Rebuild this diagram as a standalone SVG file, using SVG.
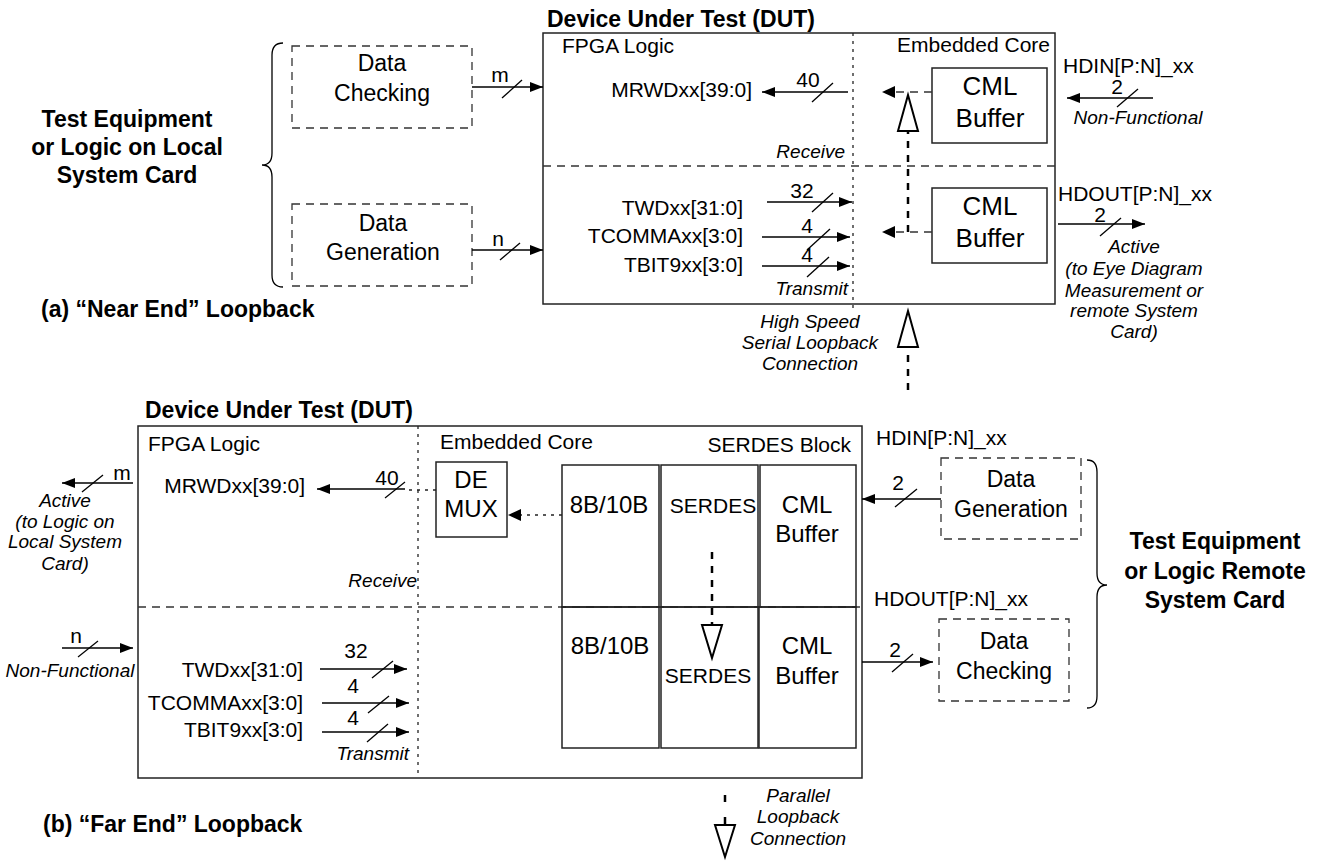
<svg xmlns="http://www.w3.org/2000/svg" width="1323" height="861" viewBox="0 0 1323 861">
<defs>
<style>
.t{font-family:"Liberation Sans",Arial,sans-serif;font-size:21px;fill:#000}
.b{font-weight:bold;font-size:23px}
.i{font-style:italic;font-size:19px}
.c{text-anchor:middle}
.e{text-anchor:end}
.l23{font-size:23px}
.l24{font-size:24px}
.l26{font-size:26px}
.box{fill:none;stroke:#222;stroke-width:1.5}
.dbox{fill:none;stroke:#333;stroke-width:1.3;stroke-dasharray:8 6}
.dot{stroke:#222;stroke-width:1.3;stroke-dasharray:3 5;fill:none}
.dash{stroke:#333;stroke-width:1.3;stroke-dasharray:8 6;fill:none}
.ln{stroke:#000;stroke-width:1.3;fill:none}
.thick{stroke:#000;stroke-width:2.5;stroke-dasharray:7 7;fill:none}
.solidthick{stroke:#000;stroke-width:2.5;fill:none}
.tri{fill:#fff;stroke:#000;stroke-width:2}
</style>
<marker id="ah" viewBox="0 0 13 10" refX="13" refY="5" markerWidth="13" markerHeight="10" markerUnits="userSpaceOnUse" orient="auto">
<path d="M0,0 L13,5 L0,10 Z" fill="#000"/>
</marker>
</defs>
<rect x="0" y="0" width="1323" height="861" fill="#fff"/>

<!-- ============ (a) Near End ============ -->
<g id="top-left-label">
<text class="t b c" x="127" y="127">Test Equipment</text>
<text class="t b c" x="127" y="155">or Logic on Local</text>
<text class="t b c" x="127" y="183">System Card</text>
<path class="ln" d="M283,43 Q272,43 272,55 L272,153 Q272,165 262,165 Q272,165 272,177 L272,275 Q272,287 283,287"/>
<text class="t b" x="41" y="317">(a) “Near End” Loopback</text>
</g>

<g id="top-datacheck">
<rect class="dbox" x="292" y="46" width="180" height="82"/>
<text class="t c l23" x="382" y="71">Data</text>
<text class="t c l23" x="382" y="101">Checking</text>
</g>
<g id="top-datagen">
<rect class="dbox" x="292" y="204" width="180" height="82"/>
<text class="t c l23" x="383" y="231">Data</text>
<text class="t c l23" x="383" y="260">Generation</text>
</g>

<g id="top-dut">
<text class="t b" x="547" y="27">Device Under Test (DUT)</text>
<rect class="box" x="543" y="33" width="512" height="271"/>
<line class="dot" x1="853" y1="33" x2="853" y2="309"/>
<line class="dash" x1="543" y1="166" x2="1055" y2="166"/>
<text class="t" x="562" y="53">FPGA Logic</text>
<text class="t e" x="1050" y="52">Embedded Core</text>
<text class="t e" x="752" y="97">MRWDxx[39:0]</text>
<text class="t i e" x="845" y="158">Receive</text>
<text class="t e" x="743" y="215">TWDxx[31:0]</text>
<text class="t e" x="743" y="243">TCOMMAxx[3:0]</text>
<text class="t e" x="743" y="272">TBIT9xx[3:0]</text>
<text class="t i e" x="848" y="295">Transmit</text>
</g>

<g id="top-cml-rx">
<rect class="box" x="932" y="68" width="115" height="75"/>
<text class="t c l26" x="990" y="95">CML</text>
<text class="t c l26" x="990" y="127">Buffer</text>
</g>
<g id="top-cml-tx">
<rect class="box" x="932" y="188" width="115" height="75"/>
<text class="t c l26" x="990" y="215">CML</text>
<text class="t c l26" x="990" y="247">Buffer</text>
</g>

<g id="top-labels">
<text class="t" x="1063" y="73">HDIN[P:N]_xx</text>
<text class="t i c" x="1138" y="124">Non-Functional</text>
<text class="t" x="1058" y="201">HDOUT[P:N]_xx</text>
<text class="t i c" x="1134" y="253">Active</text>
<text class="t i c" x="1134" y="275">(to Eye Diagram</text>
<text class="t i c" x="1134" y="297">Measurement or</text>
<text class="t i c" x="1134" y="317">remote System</text>
<text class="t i c" x="1134" y="338">Card)</text>
<text class="t i c" x="810" y="328">High Speed</text>
<text class="t i c" x="810" y="349">Serial Loopback</text>
<text class="t i c" x="810" y="370">Connection</text>
</g>

<g id="top-connectors">
<line class="ln" x1="472" y1="87" x2="543" y2="87" marker-end="url(#ah)"/>
<line class="ln" x1="502" y1="98" x2="522" y2="80"/>
<text class="t c" x="500" y="82">m</text>
<line class="ln" x1="472" y1="250" x2="543" y2="250" marker-end="url(#ah)"/>
<line class="ln" x1="500" y1="260" x2="520" y2="243"/>
<text class="t c" x="498" y="246">n</text>
<line class="ln" x1="848" y1="92" x2="762" y2="92" marker-end="url(#ah)"/>
<line class="ln" x1="812" y1="102" x2="833" y2="83"/>
<text class="t c" x="808" y="87">40</text>
<line class="ln" x1="767" y1="202" x2="852" y2="202" marker-end="url(#ah)"/>
<line class="ln" x1="812" y1="212" x2="833" y2="193"/>
<text class="t c" x="802" y="198">32</text>
<line class="ln" x1="762" y1="237" x2="850" y2="237" marker-end="url(#ah)"/>
<line class="ln" x1="807" y1="250" x2="830" y2="229"/>
<text class="t c" x="807" y="233">4</text>
<line class="ln" x1="762" y1="266" x2="850" y2="266" marker-end="url(#ah)"/>
<line class="ln" x1="807" y1="277" x2="829" y2="257"/>
<text class="t c" x="807" y="262">4</text>
<line class="dash" x1="932" y1="92" x2="893" y2="92"/>
<path d="M895,86 L882,92 L895,98 Z" fill="#000"/>
<line class="dash" x1="932" y1="232" x2="893" y2="232"/>
<path d="M895,226 L882,232 L895,238 Z" fill="#000"/>
<line class="thick" x1="908" y1="232" x2="908" y2="131"/>
<polygon class="tri" points="908,95 898,131 918,131"/>
<line class="ln" x1="1153" y1="98" x2="1067" y2="98" marker-end="url(#ah)"/>
<line class="ln" x1="1117" y1="107" x2="1138" y2="89"/>
<text class="t c" x="1117" y="94">2</text>
<line class="ln" x1="1058" y1="224" x2="1145" y2="224" marker-end="url(#ah)"/>
<line class="ln" x1="1100" y1="236" x2="1121" y2="218"/>
<text class="t c" x="1100" y="222">2</text>
<line class="thick" x1="908" y1="390" x2="908" y2="347"/>
<polygon class="tri" points="908,311 898,347 918,347"/>
</g>

<!-- ============ (b) Far End ============ -->
<g id="bot-dut">
<text class="t b" x="145" y="418">Device Under Test (DUT)</text>
<rect class="box" x="138" y="426" width="724" height="352"/>
<line class="dot" x1="418" y1="426" x2="418" y2="778"/>
<line class="dash" x1="138" y1="607" x2="862" y2="607"/>
<text class="t" x="148" y="451">FPGA Logic</text>
<text class="t" x="440" y="449">Embedded Core</text>
<text class="t e" x="851" y="452">SERDES Block</text>
<text class="t e" x="305" y="493">MRWDxx[39:0]</text>
<text class="t i e" x="417" y="587">Receive</text>
<text class="t e" x="303" y="677">TWDxx[31:0]</text>
<text class="t e" x="303" y="710">TCOMMAxx[3:0]</text>
<text class="t e" x="303" y="737">TBIT9xx[3:0]</text>
<text class="t i e" x="409" y="760">Transmit</text>
</g>

<g id="bot-demux">
<rect class="box" x="436" y="462" width="71" height="75"/>
<text class="t c l24" x="471" y="488">DE</text>
<text class="t c l24" x="471" y="517">MUX</text>
</g>

<g id="bot-8b10b-rx">
<rect class="box" x="562" y="465" width="97" height="142"/>
<text class="t c l24" x="609" y="513">8B/10B</text>
</g>
<g id="bot-serdes-rx">
<rect class="box" x="661" y="465" width="97" height="142"/>
<text class="t c" x="713" y="513">SERDES</text>
</g>
<g id="bot-cml-rx">
<rect class="box" x="760" y="465" width="96" height="142"/>
<text class="t c l24" x="807" y="513">CML</text>
<text class="t c l24" x="807" y="542">Buffer</text>
</g>
<g id="bot-8b10b-tx">
<rect class="box" x="562" y="607" width="97" height="141"/>
<text class="t c l24" x="610" y="654">8B/10B</text>
</g>
<g id="bot-serdes-tx">
<rect class="box" x="661" y="607" width="97" height="141"/>
<text class="t c" x="708" y="683">SERDES</text>
</g>
<g id="bot-cml-tx">
<rect class="box" x="759" y="607" width="97" height="141"/>
<text class="t c l24" x="807" y="654">CML</text>
<text class="t c l24" x="807" y="684">Buffer</text>
</g>

<g id="bot-datagen">
<rect class="dbox" x="941" y="458" width="140" height="81"/>
<text class="t c l23" x="1011" y="487">Data</text>
<text class="t c l23" x="1011" y="517">Generation</text>
</g>
<g id="bot-datacheck">
<rect class="dbox" x="939" y="619" width="130" height="82"/>
<text class="t c l23" x="1004" y="649">Data</text>
<text class="t c l23" x="1004" y="679">Checking</text>
</g>

<g id="bot-right-label">
<path class="ln" d="M1087,460 Q1097,460 1097,472 L1097,573 Q1097,585 1107,585 Q1097,585 1097,597 L1097,696 Q1097,708 1087,708"/>
<text class="t b c" x="1215" y="549">Test Equipment</text>
<text class="t b c" x="1215" y="579">or Logic Remote</text>
<text class="t b c" x="1215" y="608">System Card</text>
<text class="t b" x="43" y="832">(b) “Far End” Loopback</text>
</g>

<g id="bot-labels">
<text class="t" x="876" y="445">HDIN[P:N]_xx</text>
<text class="t" x="874" y="606">HDOUT[P:N]_xx</text>
<text class="t i c" x="65" y="507">Active</text>
<text class="t i c" x="65" y="528">(to Logic on</text>
<text class="t i c" x="65" y="548">Local System</text>
<text class="t i c" x="65" y="570">Card)</text>
<text class="t i c" x="70" y="677">Non-Functional</text>
<text class="t i c" x="798" y="802">Parallel</text>
<text class="t i c" x="798" y="823">Loopback</text>
<text class="t i c" x="798" y="845">Connection</text>
</g>

<g id="bot-connectors">
<line class="ln" x1="133" y1="483" x2="62" y2="483" marker-end="url(#ah)"/>
<line class="ln" x1="82" y1="492" x2="103" y2="475"/>
<text class="t c" x="122" y="480">m</text>
<line class="ln" x1="62" y1="648" x2="133" y2="648" marker-end="url(#ah)"/>
<line class="ln" x1="78" y1="657" x2="98" y2="641"/>
<text class="t c" x="76" y="643">n</text>
<line class="dot" x1="436" y1="490" x2="406" y2="490"/>
<line class="ln" x1="405" y1="489" x2="317" y2="489" marker-end="url(#ah)"/>
<line class="ln" x1="385" y1="498" x2="405" y2="482"/>
<text class="t c" x="387" y="485">40</text>
<line class="dot" x1="562" y1="515" x2="520" y2="515"/>
<path d="M521,509 L508,515 L521,521 Z" fill="#000"/>
<line class="ln" x1="320" y1="669" x2="407" y2="669" marker-end="url(#ah)"/>
<line class="ln" x1="372" y1="678" x2="393" y2="661"/>
<text class="t c" x="356" y="658">32</text>
<line class="ln" x1="322" y1="703" x2="409" y2="703" marker-end="url(#ah)"/>
<line class="ln" x1="368" y1="713" x2="389" y2="696"/>
<text class="t c" x="353" y="693">4</text>
<line class="ln" x1="322" y1="732" x2="409" y2="732" marker-end="url(#ah)"/>
<line class="ln" x1="367" y1="742" x2="388" y2="724"/>
<text class="t c" x="353" y="725">4</text>
<line class="ln" x1="941" y1="499" x2="862" y2="499" marker-end="url(#ah)"/>
<line class="ln" x1="895" y1="507" x2="917" y2="489"/>
<text class="t c" x="898" y="490">2</text>
<line class="ln" x1="862" y1="662" x2="933" y2="662" marker-end="url(#ah)"/>
<line class="ln" x1="892" y1="672" x2="913" y2="654"/>
<text class="t c" x="895" y="657">2</text>
<line class="thick" x1="712" y1="552" x2="712" y2="625"/>
<polygon class="tri" points="702,625 722,625 712,658"/>
<line class="solidthick" x1="725" y1="795" x2="725" y2="802"/>
<line class="solidthick" x1="725" y1="817" x2="725" y2="825"/>
<polygon class="tri" points="715,825 735,825 725,857"/>
</g>
</svg>
